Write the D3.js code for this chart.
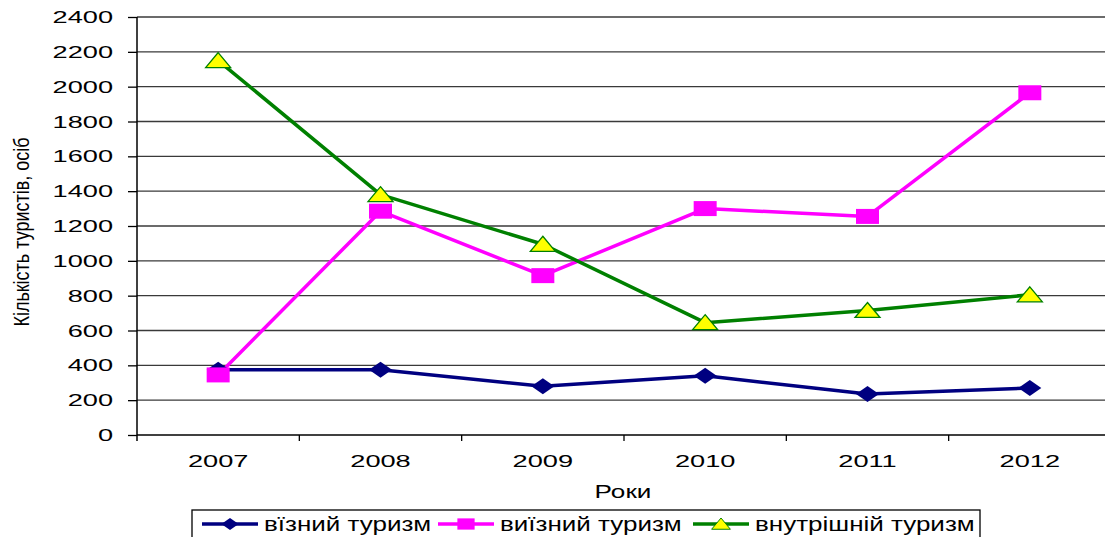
<!DOCTYPE html>
<html><head><meta charset="utf-8">
<script src="https://cdn.jsdelivr.net/npm/d3@7"></script>
<style>
html,body{margin:0;padding:0;background:#fff;overflow:hidden}
svg{display:block;font-family:"Liberation Sans",Arial,sans-serif}
</style></head>
<body>
<svg id="c" width="1105" height="537"></svg>
<script>
const years = ["2007","2008","2009","2010","2011","2012"];
const inbound = [375, 375, 280, 340, 235, 270];
const outbound = [345, 1285, 915, 1300, 1255, 1965];
const domestic = [2150, 1380, 1095, 645, 715, 805];
const yTicks = [0,200,400,600,800,1000,1200,1400,1600,1800,2000,2200,2400];
const seriesNames = ["вїзний туризм","виїзний туризм","внутрішній туризм"];
const yTitle = "Кількість туристів, осіб";
const xTitle = "Роки";

(function(){
const svg = d3.select("#c");
const pL = 137, pR = 1111, pT = 17, pB = 435;
const x = d3.scaleBand().domain(years).range([pL, pR]).padding(0);
const y = d3.scaleLinear().domain([0, 2400]).range([pB, pT]);
const cx = d => x(d) + x.bandwidth()/2;

function stretchedText(g, tx, ty, str, anchor, size, sx, rot) {
  const gg = g.append("g").attr("transform", `translate(${tx},${ty}) scale(${sx},1)` + (rot ? ` rotate(${rot})` : ""));
  gg.append("text").attr("text-anchor", anchor).attr("font-size", size).attr("fill", "#000").text(str);
  return gg;
}

// gridlines
svg.append("g").selectAll("line").data(yTicks.filter(v => v > 0)).join("line")
  .attr("x1", pL).attr("x2", 1105).attr("y1", d => y(d)).attr("y2", d => y(d))
  .attr("stroke", "#3a3a3a").attr("stroke-width", 1.3);

// y axis
const yAxis = d3.axisLeft(y).tickValues(yTicks).tickSize(9).tickFormat("");
const ya = svg.append("g").attr("transform", `translate(${pL},0)`).call(yAxis);
ya.select(".domain").attr("stroke", "#000").attr("stroke-width", 1.5).attr("d", `M0,${pT}V${pB+6}`);
ya.selectAll(".tick line").attr("stroke", "#000").attr("stroke-width", 1.3);
const yl = svg.append("g");
yTicks.forEach(v => stretchedText(yl, 113, y(v) + 6, String(v), "end", 17, 1.6));

// x axis
const xa = svg.append("g").attr("transform", `translate(0,${pB})`);
xa.append("line").attr("x1", pL).attr("x2", 1105).attr("y1", 0).attr("y2", 0).attr("stroke", "#000").attr("stroke-width", 1.5);
const bounds = years.map(d => x(d)).slice(1);
xa.selectAll("line.t").data(bounds).join("line").attr("class","t")
  .attr("x1", d => d).attr("x2", d => d).attr("y1", 0).attr("y2", 6).attr("stroke", "#000").attr("stroke-width", 1.3);
const xl = svg.append("g");
years.forEach(yr => stretchedText(xl, cx(yr), 467, yr, "middle", 17, 1.6));
stretchedText(svg, 623, 498, xTitle, "middle", 18, 1.45);
stretchedText(svg, 28.5, 232, yTitle, "middle", 18, 1.25, -90);

// markers
function diamond(){ return `M0,-8L11.5,0L0,8L-11.5,0Z`; }
function square(){ return `M-11.5,-7.5H11.5V7.5H-11.5Z`; }
function tri(){ return `M0,-8L12.5,7L-12.5,7Z`; }

const series = [
  {name: seriesNames[0], values: inbound, color: "#000080", marker: diamond, fill: "#000080", mstroke: "none"},
  {name: seriesNames[1], values: outbound, color: "#FF00FF", marker: square, fill: "#FF00FF", mstroke: "none"},
  {name: seriesNames[2], values: domestic, color: "#008000", marker: tri, fill: "#FFFF00", mstroke: "#008000"}
];
const line = d3.line().x((d,i) => cx(years[i])).y(d => y(d));

series.forEach(s => {
  svg.append("path").attr("d", line(s.values)).attr("fill", "none")
    .attr("stroke", s.color).attr("stroke-width", 3.5).attr("stroke-linejoin", "round");
});
series.forEach(s => {
  svg.append("g").selectAll("path").data(s.values).join("path")
    .attr("transform", (d,i) => `translate(${cx(years[i])},${y(d)})`)
    .attr("d", s.marker()).attr("fill", s.fill).attr("stroke", s.mstroke).attr("stroke-width", 1.3);
});

// legend
const lg = svg.append("g");
lg.append("rect").attr("x", 192).attr("y", 510).attr("width", 788).attr("height", 34)
  .attr("fill", "#fff").attr("stroke", "#000").attr("stroke-width", 1.3);
const legendX = [202, 438, 693];
series.forEach((s, i) => {
  const x0 = legendX[i];
  lg.append("line").attr("x1", x0).attr("x2", x0 + 56).attr("y1", 524).attr("y2", 524)
    .attr("stroke", s.color).attr("stroke-width", 3.5);
  lg.append("path").attr("transform", `translate(${x0+28},524) scale(0.75)`).attr("d", s.marker())
    .attr("fill", s.fill).attr("stroke", s.mstroke).attr("stroke-width", 1.3);
  stretchedText(lg, x0 + 62, 531, s.name, "start", 20, 1.3);
});
})();
</script>
</body></html>
